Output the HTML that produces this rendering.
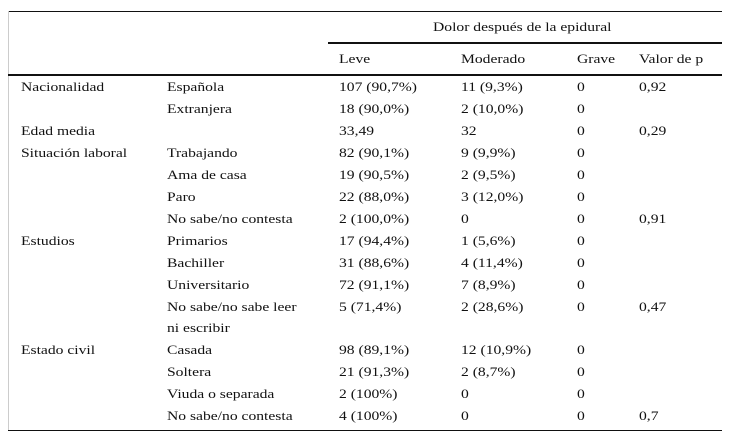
<!DOCTYPE html>
<html><head><meta charset="utf-8"><style>
body{margin:0;width:731px;height:443px;background:#fff;position:relative;overflow:hidden;font-family:"Liberation Serif",serif;font-size:13px;color:#111}
.t{position:absolute;white-space:nowrap;line-height:16px;transform:scaleX(1.2);transform-origin:0 0}
.l{position:absolute;background:#111}
</style></head><body>
<div class="l" style="left:8px;top:11px;width:714px;height:1px"></div>
<div class="l" style="left:8px;top:11px;width:1px;height:420px;background:#ccc"></div>
<div class="l" style="left:328px;top:42px;width:394px;height:2px"></div>
<div class="l" style="left:8px;top:74px;width:714px;height:2px"></div>
<div class="l" style="left:8px;top:430px;width:714px;height:1px"></div>
<div class="t" style="left:433px;top:19px">Dolor después de la epidural</div>
<div class="t" style="left:339px;top:51px">Leve</div>
<div class="t" style="left:461px;top:51px">Moderado</div>
<div class="t" style="left:577px;top:51px">Grave</div>
<div class="t" style="left:639px;top:51px">Valor de p</div>
<div id="rows"></div>
<script>
const rows=[
[87,"Nacionalidad","Española","107 (90,7%)","11 (9,3%)","0","0,92"],
[109,"","Extranjera","18 (90,0%)","2 (10,0%)","0",""],
[131,"Edad media","","33,49","32","0","0,29"],
[153,"Situación laboral","Trabajando","82 (90,1%)","9 (9,9%)","0",""],
[175,"","Ama de casa","19 (90,5%)","2 (9,5%)","0",""],
[197,"","Paro","22 (88,0%)","3 (12,0%)","0",""],
[219,"","No sabe/no contesta","2 (100,0%)","0","0","0,91"],
[241,"Estudios","Primarios","17 (94,4%)","1 (5,6%)","0",""],
[263,"","Bachiller","31 (88,6%)","4 (11,4%)","0",""],
[285,"","Universitario","72 (91,1%)","7 (8,9%)","0",""],
[307,"","No sabe/no sabe leer","5 (71,4%)","2 (28,6%)","0","0,47"],
[328,"","ni escribir","","","",""],
[350,"Estado civil","Casada","98 (89,1%)","12 (10,9%)","0",""],
[372,"","Soltera","21 (91,3%)","2 (8,7%)","0",""],
[394,"","Viuda o separada","2 (100%)","0","0",""],
[416,"","No sabe/no contesta","4 (100%)","0","0","0,7"]];
const xs=[21,167,339,461,577,639];
const names=['row-label','row-category','leve-cell','moderado-cell','grave-cell','p-cell'];
const c=document.getElementById('rows');
rows.forEach(r=>{for(let i=1;i<7;i++){if(!r[i])continue;const d=document.createElement('div');d.className='t';d.style.left=xs[i-1]+'px';d.style.top=(r[0]-8)+'px';d.textContent=r[i];


c.appendChild(d);}});
</script>
</body></html>
